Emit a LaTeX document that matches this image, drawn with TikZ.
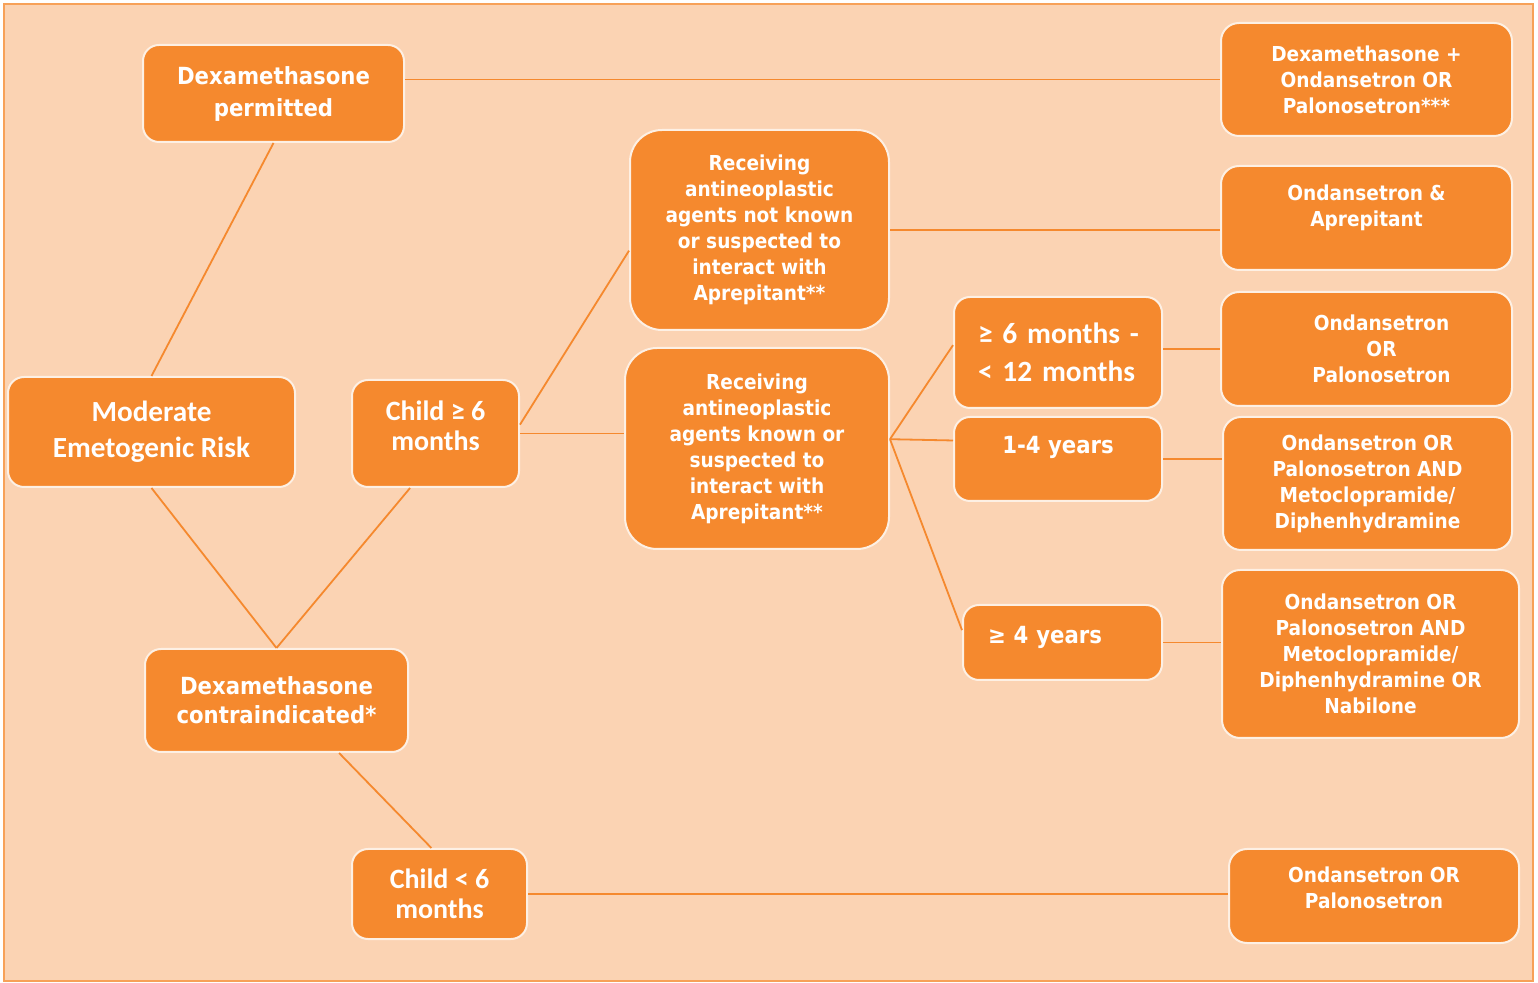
\documentclass[tikz,border=0pt]{standalone}
\usepackage{fontspec}
\setmainfont{DejaVu Sans Condensed}
\newfontfamily\calfont{Carlito}
\definecolor{pagefill}{RGB}{251,211,179}
\definecolor{boxfill}{RGB}{245,137,46}
\definecolor{boxline}{RGB}{253,240,228}
\definecolor{linkline}{RGB}{245,137,46}

\begin{document}
\begin{tikzpicture}[x=0.5pt,y=-0.5pt,
  main node/.style={rectangle,rounded corners=8pt,draw=boxline,line width=1pt,fill=boxfill,text=white,align=center,inner sep=0pt,font=\bfseries\fontsize{11.8}{16}\selectfont},
  big node/.style={main node,rounded corners=16pt,font=\bfseries\fontsize{10.3}{13}\selectfont},
  drug node/.style={main node,rounded corners=9pt,font=\bfseries\fontsize{10.3}{13}\selectfont},
  link/.style={draw=linkline,line width=0.9pt}]
  \useasboundingbox (0,0) rectangle (1538,983);
  \draw[fill=pagefill,draw=linkline!80,line width=0.9pt] (4,4) rectangle (1533,981);

  \node[main node,minimum width=130.5pt,minimum height=48.5pt] (perm) at (273.5,93.5) {Dexamethasone\\permitted};
  \node[main node,minimum width=143.5pt,minimum height=55pt,font=\calfont\bfseries\fontsize{14.6}{18}\selectfont] (risk) at (151.5,432) {Moderate\\Emetogenic Risk};
  \node[main node,minimum width=131.5pt,minimum height=51.5pt,font=\bfseries\fontsize{11.8}{14.5}\selectfont] (contra) at (276.5,700.5) {Dexamethasone\\contraindicated*};
  \node[main node,minimum width=83.5pt,minimum height=53.5pt,text depth=8pt,font=\calfont\bfseries\fontsize{14}{15}\selectfont] (older) at (435.5,433.5) {Child ≥ 6\\months};
  \node[main node,minimum width=87.5pt,minimum height=45pt,font=\calfont\bfseries\fontsize{14}{15}\selectfont] (younger) at (439.5,894) {Child < 6\\months};

  \node[big node,minimum width=129.5pt,minimum height=100pt] (notknown) at (759.5,230) {Receiving\\antineoplastic\\agents not known\\or suspected to\\interact with\\Aprepitant**};
  \node[big node,minimum width=132pt,minimum height=100.5pt] (known) at (757,448.5) {Receiving\\antineoplastic\\agents known or\\suspected to\\interact with\\Aprepitant**};

  \node[main node,minimum width=104pt,minimum height=55.5pt,text width=80pt,align=left,font=\calfont\bfseries\fontsize{14.7}{19}\selectfont] (infant) at (1058,352.5) {\mbox{≥ 6 months -}\\\mbox{< 12 months}};
  \node[main node,minimum width=104pt,minimum height=42pt,text depth=14pt] (toddler) at (1058,459) {1-4 years};
  \node[main node,minimum width=99.5pt,minimum height=37.5pt,text width=74.5pt,align=left,text depth=8pt] (child) at (1062.5,642.5) {≥ 4 years};

  \node[drug node,minimum width=145.5pt,minimum height=56.5pt] (r1) at (1366.5,79.5) {Dexamethasone +\\Ondansetron OR\\Palonosetron***};
  \node[drug node,minimum width=145.5pt,minimum height=52pt,text depth=12pt] (r2) at (1366.5,218) {Ondansetron \&\\Aprepitant};
  \node[drug node,minimum width=145.5pt,minimum height=57pt] (r3) at (1366.5,349) {\hspace*{15pt}Ondansetron\\\hspace*{15pt}OR\\\hspace*{15pt}Palonosetron};
  \node[drug node,minimum width=144.5pt,minimum height=66.5pt] (r4) at (1367.5,483.5) {Ondansetron OR\\Palonosetron AND\\Metoclopramide/\\Diphenhydramine};
  \node[drug node,minimum width=148.5pt,minimum height=84pt] (r5) at (1370.5,654) {Ondansetron OR\\Palonosetron AND\\Metoclopramide/\\Diphenhydramine OR\\Nabilone};
  \node[drug node,minimum width=145pt,minimum height=47pt,text depth=8pt] (r6) at (1374,896) {Ondansetron OR\\Palonosetron};

  \path[link]
  (perm.south) edge (risk.north)
  (perm.east |- r1.west) edge (r1.west)
  (risk.south) edge (contra.north)
  (older.245) edge (contra.north)
  (contra.320) edge (younger.100)
  (younger.east) edge (younger.east -| r6.west)
  (older.east) edge (older.east -| known.west)
  (older.6) edge (notknown.189)
  (notknown.east) edge (notknown.east -| r2.west)
  (known.4) edge (infant.176)
  (known.4) edge (toddler.170)
  (known.4) edge (child.173)
  (infant.east |- r3.west) edge (r3.west)
  (toddler.east) edge (toddler.east -| r4.west)
  (child.east) edge (child.east -| r5.west);

\end{tikzpicture}
\end{document}
